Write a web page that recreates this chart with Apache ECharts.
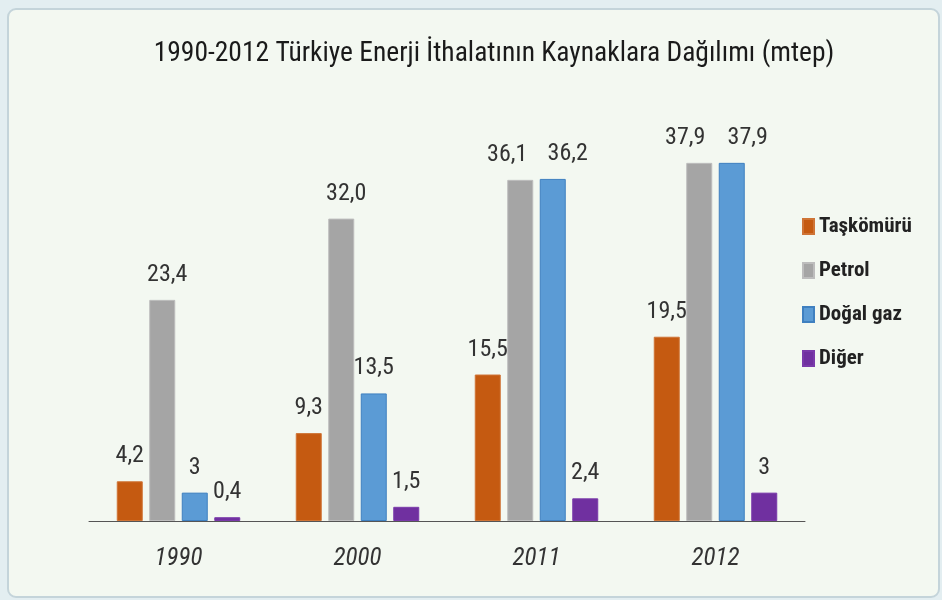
<!DOCTYPE html>
<html>
<head>
<meta charset="utf-8">
<script src="https://cdn.jsdelivr.net/npm/echarts@6/dist/echarts.min.js"></script>
<style>
  html, body { margin: 0; padding: 0; background: #e3eef1; }
  #chart { width: 942px; height: 600px; }
</style>
</head>
<body>
<div id="chart"></div>
<script>
// veriler (mtep)
const years = ['1990', '2000', '2011', '2012']
const seriesNames = ['Taşkömürü', 'Petrol', 'Doğal gaz', 'Diğer']
const taskomuru = [4.2, 9.3, 15.5, 19.5]
const petrol = [23.4, 32.0, 36.1, 37.9]
const dogalGaz = [3, 13.5, 36.2, 37.9]
const diger = [0.4, 1.5, 2.4, 3]
// etiketler grafikte yazildigi gibi
const taskomuruLabels = ['4,2', '9,3', '15,5', '19,5']
const petrolLabels = ['23,4', '32,0', '36,1', '37,9']
const dogalGazLabels = ['3', '13,5', '36,2', '37,9']
const digerLabels = ['0,4', '1,5', '2,4', '3']

const font = "'Roboto Condensed', 'Liberation Sans Narrow', 'Arial Narrow', Arial, sans-serif"
const colors = ['#c55a11', '#a5a5a5', '#5b9bd5', '#7030a0']
const borders = ['#cf7436', '#bdbdbd', '#3f80c0', '#7a3aaa']
// ust uste binen etiketleri yana kaydir (seri -> veri indeksi -> x kaydirma)
const labelShift = [
  {},
  { 0: 5, 1: 5, 2: -13, 3: -14 },
  { 2: 15, 3: 16 },
  {}
]

const makeSeries = (i, data, labels) => ({
  name: seriesNames[i],
  type: 'bar',
  data: data.map((v, j) => ({
    value: v,
    label: { offset: [labelShift[i][j] || 0, 0] }
  })),
  barWidth: 26,
  barGap: '25%',
  itemStyle: {
    color: colors[i],
    borderColor: borders[i],
    borderWidth: 1
  },
  label: {
    show: true,
    position: 'top',
    distance: 13,
    fontFamily: font,
    fontSize: 24,
    color: '#333',
    formatter: (p) => labels[p.dataIndex]
  }
})

const chart = echarts.init(document.getElementById('chart'))
chart.setOption({
  animation: false,
  backgroundColor: 'transparent',
  graphic: [
    {
      type: 'rect',
      z: -10,
      shape: { x: 8, y: 9, width: 931, height: 588, r: 8 },
      style: { fill: '#f3f8f1', stroke: '#c4d4da', lineWidth: 2 }
    }
  ],
  title: {
    text: '1990-2012 Türkiye Enerji İthalatının Kaynaklara Dağılımı (mtep)',
    left: 489,
    textAlign: 'center',
    top: 35,
    textStyle: {
      fontFamily: font,
      fontSize: 27.5,
      fontWeight: 'normal',
      color: '#1a1a1a'
    }
  },
  legend: {
    orient: 'vertical',
    left: 797,
    top: 211,
    itemWidth: 11,
    itemHeight: 15,
    itemGap: 23,
    icon: 'rect',
    data: seriesNames,
    textStyle: {
      fontFamily: font,
      fontSize: 21,
      lineHeight: 20,
      fontWeight: 'bold',
      color: '#222'
    }
  },
  grid: {
    left: 89,
    right: 137,
    top: 143,
    bottom: 79
  },
  xAxis: {
    type: 'category',
    data: years,
    axisLine: { lineStyle: { color: '#555', width: 1 } },
    axisTick: { alignWithLabel: true, length: 6, lineStyle: { color: '#555' } },
    axisLabel: {
      margin: 25,
      fontFamily: font,
      fontSize: 25,
      fontStyle: 'italic',
      color: '#333'
    }
  },
  yAxis: {
    type: 'value',
    min: 0,
    max: 40,
    show: false,
    splitLine: { show: false }
  },
  series: [
    makeSeries(0, taskomuru, taskomuruLabels),
    makeSeries(1, petrol, petrolLabels),
    makeSeries(2, dogalGaz, dogalGazLabels),
    makeSeries(3, diger, digerLabels)
  ]
})
</script>
</body>
</html>
